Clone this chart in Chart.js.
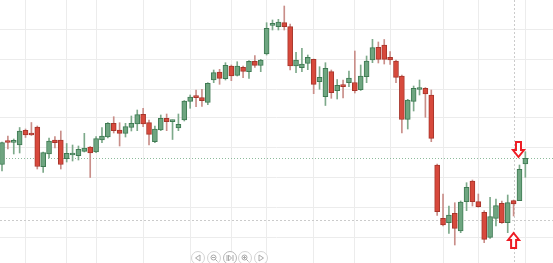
<!DOCTYPE html>
<html>
<head>
<meta charset="utf-8">
<script src="https://cdn.jsdelivr.net/npm/chart.js@4.4.1/dist/chart.umd.min.js"></script>
<style>
  html, body { margin: 0; padding: 0; background: #fff; }
  #wrap { width: 553px; height: 263px; }
</style>
</head>
<body>
<div id="wrap"><canvas id="myChart"></canvas></div>
<script>
// candle values (one per trading day)
const open = [98.5,122,120.7,118,132.7,130,136,96.3,109,123,
  123,104.3,108,107.3,111.7,116,111,123,126,139.7,
  133,129.7,135.7,139,148.7,140.3,121.3,133,144.7,141.3,
  135,143,161.7,166.7,165.5,160.7,183,191,184.3,197,
  187.7,195.7,191.3,201.7,197.7,209,237.7,236.3,240.3,236.3,
  197,195.3,199.7,203.7,181.3,166.3,191.3,172.3,177.3,180.3,
  180.5,173.3,186.3,203,215.7,218,205.7,202,187,143.7,
  161.7,173.5,174.7,168,98,44.7,40.3,49.7,32,61.3,
  82,61.3,50.7,25.7,44.7,59.7,40.3,62.3,62.3,99];
const high = [121,127,124,135.5,134,140.5,137,111,125,126.3,
  132,119.5,118,117,129.7,116.5,126.5,135.3,140.5,146.3,
  140.3,139.7,147,153,154.7,143,137,148,149,143,
  149,162.5,168,173,173.7,180.3,193,193.7,200.3,198,
  201.3,197,202.3,207.3,203.7,240.3,243,243.7,257,239,
  210.7,214.7,208,204,196.3,200.3,193,183.5,183,192,
  212,198,207,223.7,221,223.5,211.3,203,188,163.7,
  177,183,175.5,173,99,69,57,60.3,62,80.3,
  83,69,52.3,65.7,64,62,68,63,98,111.3];
const low = [92,114,109,110,125.5,127.5,94,90.5,105,115,
  94,101,102,103,111,85.5,110.3,120.3,125,130,
  117,126,132,132.3,136.3,118,120.3,132.3,132.3,123.5,
  132.3,142,154.7,156.3,156.7,158.3,180.3,178.7,183,182.3,
  187,185.3,184.7,195.7,191.3,208,233,233,233,193,
  190.3,191.3,193.3,169.3,173.7,157.5,164.7,164,165,176.3,
  170,172.5,180.3,200.3,200,199,198.5,180.3,130,134,
  152,168,145.7,121.3,47.5,37,29.7,18,30.3,52.3,
  57,55.7,20.3,24.7,37,39.7,30.3,47,62.3,85.7];
const close = [120.3,120.5,122,132,128,128,96.5,110.3,122,120.3,
  98.5,109.7,110,113.7,115,110,124.3,127,139.7,132.3,
  129.7,136.3,139.7,148.3,139,128.7,134,144.7,141.3,142.5,
  138.7,162,166,165.3,162.3,179.7,190.3,184.7,197.7,187,
  197,191.7,201.7,197.7,203,234.7,239,241,236.3,197,
  203,199,205.7,178.7,185.7,194.7,170.3,177.7,176.3,185,
  172.3,187,202,215.3,203.7,203.7,203,185.7,143.5,163,
  174.7,175.5,169,124.7,51.3,38,48,34.7,61,75.7,
  61.3,56.3,23.7,46.3,57.3,40.3,60.3,59,93.7,104.7];

// grid lines (day index / price level)
const gridDays = [4, 11, 16, 24, 32, 39, 45, 53, 60, 66, 75, 81, 89];
const gridLevels = [26, 56, 86, 115, 145, 174, 204, 233];
const levelLine = 43;
const crossDay = 87;
const lastPrice = close[close.length - 1];
const arrowDown = { day: 88, price: 106 };
const arrowUp = { day: 87, price: 30 };

const days = open.map((v, i) => i);
const isUp = (i) => close[i] >= open[i];

const overlay = {
  id: "overlay",
  beforeDatasetsDraw(chart) {
    const { ctx, chartArea: a, scales: { x, y } } = chart;
    ctx.save();
    ctx.lineWidth = 1;
    // level line
    ctx.setLineDash([2, 2]);
    ctx.strokeStyle = "#cbcbcb";
    let py = Math.round(y.getPixelForValue(levelLine)) + 0.5;
    ctx.beginPath(); ctx.moveTo(a.left, py); ctx.lineTo(a.right, py); ctx.stroke();
    // crosshair
    let px = Math.round(x.getPixelForValue(crossDay)) + 0.5;
    ctx.beginPath(); ctx.moveTo(px, a.top); ctx.lineTo(px, a.bottom); ctx.stroke();
    // last price
    ctx.setLineDash([1, 2]);
    ctx.strokeStyle = "#8dbb9b";
    py = Math.round(y.getPixelForValue(lastPrice)) + 0.5;
    ctx.beginPath(); ctx.moveTo(a.left, py); ctx.lineTo(a.right, py); ctx.stroke();
    ctx.restore();
  },
  afterDraw(chart) {
    const { ctx, scales: { x, y } } = chart;
    ctx.save();
    drawArrow(ctx, x.getPixelForValue(arrowDown.day) - 1, y.getPixelForValue(arrowDown.price), 1);
    drawArrow(ctx, x.getPixelForValue(arrowUp.day), y.getPixelForValue(arrowUp.price), -1);
    drawButtons(ctx);
    ctx.restore();
  }
};

function drawArrow(ctx, cx, tip, dir) {
  const pts = [[0, 0], [5.5, 7], [2.5, 7], [2.5, 15], [-2.5, 15], [-2.5, 7], [-5.5, 7]];
  ctx.beginPath();
  pts.forEach((p, k) => {
    const px = cx + p[0], py = tip - dir * p[1];
    if (k == 0) ctx.moveTo(px, py); else ctx.lineTo(px, py);
  });
  ctx.closePath();
  ctx.fillStyle = "#fff";
  ctx.fill();
  ctx.lineWidth = 2;
  ctx.lineJoin = "miter";
  ctx.strokeStyle = "#ee1c24";
  ctx.stroke();
}

function drawButtons(ctx) {
  const xs = [198, 214, 230, 245, 261];
  const cy = 258;
  ctx.lineWidth = 1;
  xs.forEach((bx, k) => {
    ctx.beginPath();
    ctx.arc(bx, cy, 6.5, 0, Math.PI * 2);
    ctx.fillStyle = "#fff";
    ctx.fill();
    ctx.strokeStyle = k == 2 ? "#b5b5b5" : "#d3d3d3";
    ctx.stroke();
    ctx.strokeStyle = "#a9a9a9";
    ctx.beginPath();
    if (k == 0) {
      ctx.moveTo(bx + 2, cy - 3); ctx.lineTo(bx - 2.5, cy); ctx.lineTo(bx + 2, cy + 3); ctx.closePath();
    } else if (k == 4) {
      ctx.moveTo(bx - 2, cy - 3); ctx.lineTo(bx + 2.5, cy); ctx.lineTo(bx - 2, cy + 3); ctx.closePath();
    } else if (k == 2) {
      ctx.moveTo(bx - 3, cy - 3); ctx.lineTo(bx - 3, cy + 3);
      ctx.moveTo(bx - 1.5, cy - 3); ctx.lineTo(bx + 1.5, cy); ctx.lineTo(bx - 1.5, cy + 3); ctx.closePath();
      ctx.moveTo(bx + 3, cy - 3); ctx.lineTo(bx + 3, cy + 3);
    } else {
      ctx.arc(bx - 0.5, cy - 0.5, 2.5, 0, Math.PI * 2);
      ctx.moveTo(bx + 1.3, cy + 1.3); ctx.lineTo(bx + 3.5, cy + 3.5);
      ctx.moveTo(bx - 2, cy - 0.5); ctx.lineTo(bx + 1, cy - 0.5);
      if (k == 3) { ctx.moveTo(bx - 0.5, cy - 2); ctx.lineTo(bx - 0.5, cy + 1); }
    }
    ctx.stroke();
  });
}

const wicks = {
  label: "wick",
  data: days.map((i) => ({ x: i, y: [low[i], high[i]] })),
  backgroundColor: (c) => (isUp(c.dataIndex) ? "#7da98a" : "#c98e89"),
  barThickness: 1,
  grouped: false,
  order: 2,
};

const bodies = {
  label: "body",
  data: days.map((i) => ({ x: i, y: [open[i], close[i]] })),
  backgroundColor: (c) => (isUp(c.dataIndex) ? "#6ea580" : "#d7493c"),
  borderColor: (c) => (isUp(c.dataIndex) ? "#3f7b53" : "#a8352b"),
  borderWidth: 1,
  borderSkipped: false,
  minBarLength: 2,
  barThickness: 5,
  grouped: false,
  order: 1,
};

const config = {
  type: "bar",
  data: { datasets: [wicks, bodies] },
  options: {
    responsive: true,
    maintainAspectRatio: false,
    animation: false,
    layout: { padding: 0 },
    plugins: { legend: { display: false }, tooltip: { enabled: false } },
    scales: {
      x: {
        type: "linear",
        min: -0.34,
        max: 93.7,
        offset: false,
        grid: { color: "#ececec", drawTicks: false, offset: false },
        border: { display: false },
        ticks: { display: false },
        afterBuildTicks: (s) => { s.ticks = gridDays.map((v) => ({ value: v })); },
      },
      y: {
        min: 0,
        max: 263,
        grid: { color: "#ececec", drawTicks: false },
        border: { display: false },
        ticks: { display: false },
        afterBuildTicks: (s) => { s.ticks = gridLevels.map((v) => ({ value: v })); },
      },
    },
  },
  plugins: [overlay],
};

const grafico = new Chart(document.getElementById("myChart"), config);
</script>
</body>
</html>
